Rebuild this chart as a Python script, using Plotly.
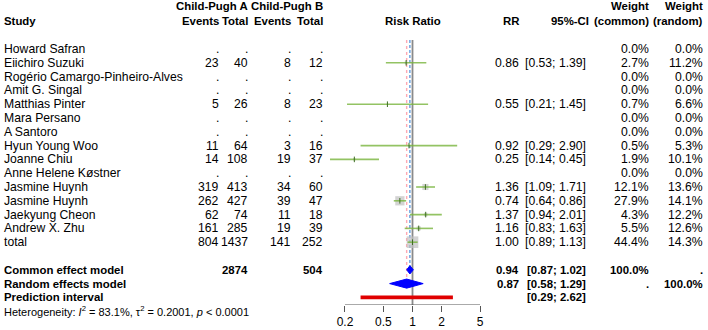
import plotly.graph_objects as go
import math

# ---------------- data ----------------
studies = ["Howard Safran", "Eiichiro Suzuki", "Rogério Camargo-Pinheiro-Alves", "Amit G. Singal",
           "Matthias Pinter", "Mara Persano", "A Santoro", "Hyun Young Woo", "Joanne Chiu",
           "Anne Helene Køstner", "Jasmine Huynh", "Jasmine Huynh", "Jaekyung Cheon",
           "Andrew X. Zhu", "total"]
events_a = [None, 23, None, None, 5, None, None, 11, 14, None, 319, 262, 62, 161, 804]
total_a = [None, 40, None, None, 26, None, None, 64, 108, None, 413, 427, 74, 285, 1437]
events_b = [None, 8, None, None, 8, None, None, 3, 19, None, 34, 39, 11, 19, 141]
total_b = [None, 12, None, None, 23, None, None, 16, 37, None, 60, 47, 18, 39, 252]
rr = [None, 0.86, None, None, 0.55, None, None, 0.92, 0.25, None, 1.36, 0.74, 1.37, 1.16, 1.00]
ci_lo = [None, 0.53, None, None, 0.21, None, None, 0.29, 0.14, None, 1.09, 0.64, 0.94, 0.83, 0.89]
ci_hi = [None, 1.39, None, None, 1.45, None, None, 2.90, 0.45, None, 1.71, 0.86, 2.01, 1.63, 1.13]
w_common = [0.0, 2.7, 0.0, 0.0, 0.7, 0.0, 0.0, 0.5, 1.9, 0.0, 12.1, 27.9, 4.3, 5.5, 44.4]
w_random = [0.0, 11.2, 0.0, 0.0, 6.6, 0.0, 0.0, 5.3, 10.1, 0.0, 13.6, 14.1, 12.2, 12.6, 14.3]

common = dict(label="Common effect model", total_a=2874, total_b=504, rr=0.94, lo=0.87, hi=1.02)
random_ = dict(label="Random effects model", rr=0.87, lo=0.58, hi=1.29)
pred = dict(label="Prediction interval", lo=0.29, hi=2.62)
tick_vals = [0.2, 0.5, 1, 2, 5]
tick_text = ["0.2", "0.5", "1", "2", "5"]
het_text = "Heterogeneity: <i>I</i><sup>2</sup> = 83.1%, τ<sup>2</sup> = 0.2001, <i>p</i> &lt; 0.0001"

# ---------------- layout helpers ----------------
W, H = 708, 330
ROW0, ROWH = 49.0, 13.8     # pixel y of first study row, row height
AXIS_PX = 305.0
n_st = len(studies)
row_common, row_random, row_pred, row_het = n_st + 1, n_st + 2, n_st + 3, n_st + 4
hdr1, hdr2 = (6 - ROW0) / ROWH, (20.7 - ROW0) / ROWH
row_top = (40 - ROW0) / ROWH
row_axis = (AXIS_PX - ROW0) / ROWH

FONT = "Liberation Sans, Arial, sans-serif"
FS = 12.2      # regular text
FSB = 11.4     # bold text
col = dict(ea=221, ta=250, eb=293, tb=325, rr=521, ci=588, wc=651, wr=705)

def px(x):
    return x / W

fig = go.Figure()

# reference lines
fig.add_trace(go.Scatter(x=[1, 1], y=[row_top, row_axis], mode="lines",
                         line=dict(color="#8a8a8a", width=1.8), hoverinfo="skip"))
fig.add_trace(go.Scatter(x=[random_["rr"], random_["rr"]], y=[row_top, row_random - 0.3], mode="lines",
                         line=dict(color="#ffaab4", width=1.4, dash="dot"), hoverinfo="skip"))
fig.add_trace(go.Scatter(x=[common["rr"], common["rr"]], y=[row_top, row_common], mode="lines",
                         line=dict(color="#4a8fdc", width=1.2, dash="3px,2px"), hoverinfo="skip"))

# squares
sq_x, sq_y, sq_s = [], [], []
for i in range(n_st):
    if rr[i] is not None:
        sq_x.append(rr[i]); sq_y.append(i); sq_s.append(1.75 * math.sqrt(w_common[i]))
fig.add_trace(go.Scatter(x=sq_x, y=sq_y, mode="markers",
                         marker=dict(symbol="square", size=sq_s, color="#c0c0c0", line=dict(width=0)),
                         hoverinfo="skip"))

# CI lines
lx, ly = [], []
for i in range(n_st):
    if rr[i] is not None:
        lx += [ci_lo[i], ci_hi[i], None]; ly += [i, i, None]
fig.add_trace(go.Scatter(x=lx, y=ly, mode="lines",
                         line=dict(color="rgba(120,180,60,0.8)", width=1.6), hoverinfo="skip"))
fig.add_trace(go.Scatter(x=sq_x, y=sq_y, mode="markers",
                         marker=dict(symbol="line-ns", size=4, line=dict(color="#3d6e22", width=1)),
                         hoverinfo="skip"))

# diamonds
for d, r, h in [(common, row_common, 0.3), (random_, row_random, 0.33)]:
    fig.add_trace(go.Scatter(x=[d["lo"], d["rr"], d["hi"], d["rr"], d["lo"]],
                             y=[r, r - h, r, r + h, r], mode="lines", fill="toself",
                             fillcolor="#0000ff", line=dict(color="#0000ff", width=1), hoverinfo="skip"))

# prediction interval
fig.add_trace(go.Scatter(x=[pred["lo"], pred["hi"]], y=[row_pred, row_pred], mode="lines",
                         line=dict(color="#e00000", width=3.6), hoverinfo="skip"))

# axis line
fig.add_trace(go.Scatter(x=[tick_vals[0], tick_vals[-1]], y=[row_axis, row_axis], mode="lines",
                         line=dict(color="#555555", width=1), hoverinfo="skip"))

# ---------------- text ----------------
ann = []
def txt(x, y, s, anchor="right", bold=False, size=None, yref="y"):
    if size is None:
        size = FSB if bold else FS
    if bold:
        s = "<b>" + s + "</b>"
    ann.append(dict(xref="paper", yref=yref, x=px(x), y=y, text=s, showarrow=False,
                    xanchor=anchor, yanchor="middle", font=dict(family=FONT, size=size, color="#000")))

# headers
txt(2, hdr2, "Study", "left", True)
txt(col["ta"], hdr1, "Child-Pugh A", bold=True)
txt(col["tb"], hdr1, "Child-Pugh B", bold=True)
txt(col["ea"], hdr2, "Events", bold=True)
txt(col["ta"], hdr2, "Total", bold=True)
txt(col["eb"], hdr2, "Events", bold=True)
txt(col["tb"], hdr2, "Total", bold=True)
txt(412.5, hdr2, "Risk Ratio", "center", True)
txt(col["rr"], hdr2, "RR", bold=True)
txt(col["ci"] + 3, hdr2, "95%-CI", bold=True)
txt(col["wc"], hdr1, "Weight", bold=True)
txt(col["wc"], hdr2, "(common)", bold=True)
txt(col["wr"], hdr1, "Weight", bold=True)
txt(col["wr"], hdr2, "(random)", bold=True)

def fmt(v):
    return "." if v is None else str(v)

for i in range(n_st):
    txt(2, i, studies[i], "left")
    txt(col["ea"], i, fmt(events_a[i]))
    txt(col["ta"], i, fmt(total_a[i]))
    txt(col["eb"], i, fmt(events_b[i]))
    txt(col["tb"], i, fmt(total_b[i]))
    if rr[i] is not None:
        txt(col["rr"], i, f"{rr[i]:.2f}")
        txt(col["ci"], i, f"[{ci_lo[i]:.2f}; {ci_hi[i]:.2f}]")
    txt(col["wc"], i, f"{w_common[i]:.1f}%")
    txt(col["wr"], i, f"{w_random[i]:.1f}%")

txt(2, row_common, common["label"], "left", True)
txt(col["ta"], row_common, str(common["total_a"]), bold=True)
txt(col["tb"], row_common, str(common["total_b"]), bold=True)
txt(col["rr"], row_common, f"{common['rr']:.2f}", bold=True)
txt(col["ci"], row_common, f"[{common['lo']:.2f}; {common['hi']:.2f}]", bold=True)
txt(col["wc"], row_common, "100.0%", bold=True)
txt(col["wr"], row_common, ".", bold=True)

txt(2, row_random, random_["label"], "left", True)
txt(col["rr"], row_random, f"{random_['rr']:.2f}", bold=True)
txt(col["ci"], row_random, f"[{random_['lo']:.2f}; {random_['hi']:.2f}]", bold=True)
txt(col["wc"], row_random, ".", bold=True)
txt(col["wr"], row_random, "100.0%", bold=True)

txt(2, row_pred, pred["label"], "left", True)
txt(col["ci"], row_pred, f"[{pred['lo']:.2f}; {pred['hi']:.2f}]", bold=True)

het_px = ROW0 + ROWH * row_het
txt(2, 1 - het_px / H, het_text, "left", size=11, yref="paper")

# ---------------- axes ----------------
x0_px, x1_px, one_px, dec_px = 300, 520, 412.5, 96.6
fig.update_layout(
    width=W, height=H, margin=dict(l=0, r=0, t=0, b=0),
    paper_bgcolor="white", plot_bgcolor="white", showlegend=False,
    annotations=ann,
    xaxis=dict(type="log", domain=[px(x0_px), px(x1_px)],
               range=[(x0_px - one_px) / dec_px, (x1_px - one_px) / dec_px],
               tickvals=tick_vals, ticktext=tick_text, ticks="outside", ticklen=6,
               tickcolor="#555555", tickwidth=1, showgrid=False, zeroline=False, showline=False,
               tickfont=dict(family=FONT, size=12, color="#000")),
    yaxis=dict(domain=[1 - AXIS_PX / H, 1], range=[row_axis, -ROW0 / ROWH],
               visible=False, showgrid=False, zeroline=False),
)

fig.write_html("out.html")
